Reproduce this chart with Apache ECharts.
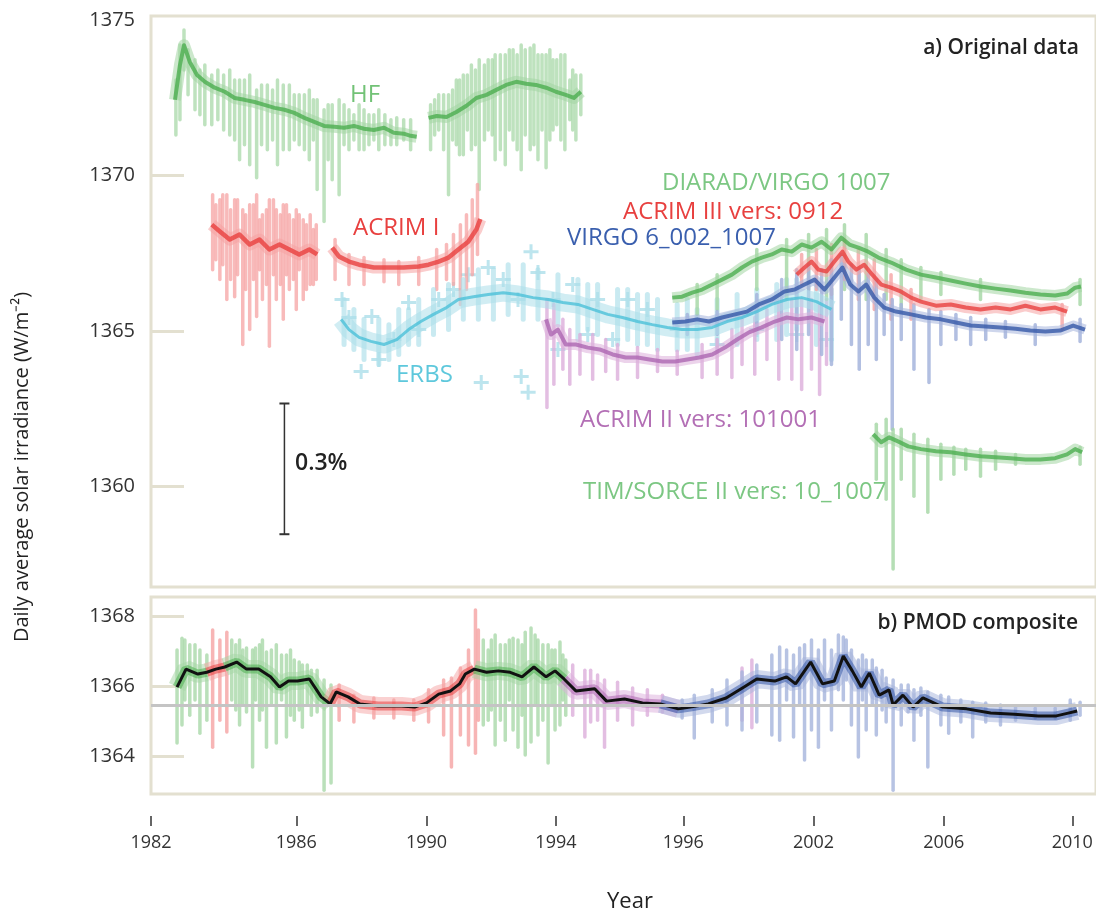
<!DOCTYPE html>
<html><head><meta charset="utf-8">
<script src="https://cdn.jsdelivr.net/npm/echarts@6/dist/echarts.min.js"></script>
<style>html,body{margin:0;padding:0;background:#fff}#c{width:1096px;height:911px}</style>
</head><body><div id="c"></div>
<script>
// ---------- axes ----------
const xTickPos = [1978.03, 1983.05, 1987.55, 1992.02, 1996.42, 2000.92, 2005.42, 2009.86];
const xTickLabels = ['1982', '1986', '1990', '1994', '1996', '2002', '2006', '2010'];
const topYTicks = [1360, 1365, 1370, 1375];
const botYTicks = [1364, 1366, 1368];

// ---------- a) original data: mean traces (segments) ----------
const hfMean = [
 [[1978.86,1372.44],[1979.03,1373.56],[1979.17,1374.2],[1979.37,1373.66],[1979.62,1373.24],[1979.89,1373.02],[1980.23,1372.83],[1980.58,1372.7],[1980.92,1372.5],[1981.26,1372.44],[1981.61,1372.37],[1981.95,1372.28],[1982.3,1372.18],[1982.64,1372.12],[1982.98,1372.02],[1983.33,1371.86],[1983.67,1371.73],[1984.01,1371.6],[1984.36,1371.57],[1984.7,1371.54],[1985.04,1371.6],[1985.39,1371.51],[1985.73,1371.47],[1986.08,1371.54],[1986.42,1371.38],[1986.76,1371.35],[1987.0,1371.28],[1987.21,1371.25]],
 [[1987.62,1371.86],[1987.9,1371.92],[1988.24,1371.89],[1988.58,1372.05],[1988.93,1372.25],[1989.27,1372.5],[1989.62,1372.6],[1989.96,1372.76],[1990.3,1372.92],[1990.65,1373.02],[1990.99,1372.96],[1991.33,1372.92],[1991.68,1372.83],[1992.02,1372.7],[1992.36,1372.6],[1992.64,1372.5],[1992.88,1372.7]]
];
const hfSpikes = [[1978.89,1373.08,1371.31],[1979.03,1374.21,1371.8],[1979.17,1374.69,1373.4],[1979.31,1374.05,1372.6],[1979.55,1373.73,1372.12],[1979.72,1373.4,1371.96],[1979.89,1373.56,1371.64],[1980.13,1373.24,1371.64],[1980.34,1373.4,1371.8],[1980.54,1373.24,1371.47],[1980.75,1373.4,1371.31],[1980.92,1373.08,1371.15],[1981.09,1373.08,1370.51],[1981.26,1373.08,1370.99],[1981.44,1373.24,1370.35],[1981.68,1372.76,1369.93],[1981.85,1372.92,1370.99],[1982.05,1372.92,1370.83],[1982.23,1372.76,1371.15],[1982.4,1373.08,1370.35],[1982.6,1372.92,1370.83],[1982.81,1372.92,1370.83],[1982.98,1372.6,1371.15],[1983.15,1372.6,1370.99],[1983.33,1372.6,1370.83],[1983.5,1372.76,1370.51],[1983.64,1372.44,1371.15],[1983.77,1372.44,1369.55],[1984.01,1372.12,1368.52],[1984.15,1372.28,1370.51],[1984.29,1372.28,1369.87],[1984.53,1372.44,1369.38],[1984.7,1372.28,1370.99],[1984.87,1372.12,1370.83],[1985.04,1371.96,1371.15],[1985.22,1372.28,1370.83],[1985.39,1372.12,1370.83],[1985.56,1371.96,1370.99],[1985.73,1371.96,1371.15],[1985.9,1372.12,1370.83],[1986.11,1371.96,1370.99],[1986.32,1371.8,1370.99],[1986.52,1371.86,1370.99],[1986.76,1371.8,1371.15],[1987.0,1371.8,1370.83],
 [1987.69,1372.28,1370.83],[1987.83,1372.44,1371.31],[1987.97,1372.6,1371.47],[1988.14,1372.6,1370.83],[1988.31,1372.6,1369.38],[1988.45,1372.76,1371.15],[1988.58,1373.08,1370.99],[1988.69,1373.08,1370.67],[1988.82,1373.24,1370.67],[1988.96,1373.24,1371.47],[1989.1,1373.56,1370.83],[1989.24,1373.4,1370.99],[1989.37,1373.73,1369.55],[1989.55,1373.56,1371.15],[1989.68,1373.73,1371.47],[1989.82,1373.73,1371.31],[1989.92,1373.89,1370.51],[1990.1,1373.89,1370.83],[1990.27,1373.89,1370.35],[1990.41,1374.05,1371.47],[1990.54,1374.05,1371.15],[1990.68,1373.89,1370.83],[1990.82,1374.21,1370.19],[1990.96,1374.05,1371.31],[1991.13,1374.11,1370.83],[1991.26,1374.21,1370.99],[1991.4,1373.89,1370.51],[1991.54,1373.89,1371.47],[1991.68,1373.89,1370.25],[1991.81,1374.05,1371.15],[1991.92,1373.73,1371.47],[1992.05,1373.73,1371.64],[1992.19,1373.89,1371.15],[1992.33,1373.89,1370.83],[1992.5,1373.08,1371.8],[1992.6,1373.4,1371.47],[1992.71,1373.24,1371.15],[1992.88,1373.24,1371.96]];

const acrim1Mean = [
 [[1980.13,1368.42],[1980.41,1368.2],[1980.75,1367.94],[1981.09,1368.1],[1981.44,1367.78],[1981.78,1367.94],[1982.12,1367.62],[1982.47,1367.78],[1982.81,1367.62],[1983.15,1367.46],[1983.5,1367.62],[1983.77,1367.46]],
 [[1984.29,1367.68],[1984.53,1367.39],[1984.87,1367.23],[1985.22,1367.13],[1985.73,1367.04],[1986.25,1367.04],[1986.76,1367.04],[1987.28,1367.07],[1987.62,1367.13],[1987.97,1367.23],[1988.31,1367.36],[1988.65,1367.62],[1988.99,1367.87],[1989.27,1368.26],[1989.41,1368.6]]
];
const acrim1Spikes = [[1980.16,1369.38,1366.97],[1980.27,1369.06,1367.29],[1980.41,1369.22,1366.65],[1980.51,1369.38,1367.13],[1980.65,1369.38,1366.01],[1980.78,1368.9,1366.65],[1980.92,1369.22,1366.1],[1981.02,1369.22,1366.81],[1981.2,1368.9,1364.56],[1981.3,1368.74,1366.33],[1981.44,1369.06,1365.04],[1981.57,1369.06,1366.65],[1981.68,1369.38,1365.46],[1981.78,1368.58,1366.97],[1981.88,1368.74,1366.01],[1982.02,1368.9,1366.49],[1982.12,1369.22,1364.5],[1982.26,1369.22,1366.81],[1982.36,1368.9,1366.01],[1982.5,1368.74,1366.49],[1982.6,1369.06,1365.37],[1982.71,1369.06,1366.81],[1982.81,1368.74,1366.33],[1982.95,1368.58,1366.65],[1983.05,1368.9,1365.69],[1983.15,1368.74,1366.97],[1983.29,1368.58,1366.01],[1983.4,1368.42,1366.33],[1983.53,1368.74,1366.49],[1983.64,1368.26,1366.49],[1983.74,1368.42,1366.65],
 [1984.39,1367.94,1366.65],[1984.87,1367.46,1366.49],[1985.39,1367.36,1366.49],[1986.08,1367.29,1366.58],[1986.59,1367.23,1366.49],[1987.28,1367.36,1366.49],[1987.9,1367.62,1366.33],[1988.24,1367.78,1366.65],[1988.48,1368.1,1366.49],[1988.72,1368.42,1365.85],[1988.93,1368.74,1366.33],[1989.13,1369.22,1366.81],[1989.31,1369.71,1367.46]];

const erbsMean = [
 [[1984.6,1365.37],[1984.87,1365.04],[1985.22,1364.79],[1985.63,1364.66],[1986.08,1364.56],[1986.52,1364.72],[1986.93,1365.04],[1987.35,1365.3],[1987.79,1365.53],[1988.24,1365.75],[1988.65,1366.01],[1989.17,1366.1],[1989.68,1366.17],[1990.2,1366.23],[1990.71,1366.17],[1991.23,1366.07],[1991.75,1366.01],[1992.26,1365.91],[1992.78,1365.85],[1993.29,1365.69],[1993.81,1365.53],[1994.32,1365.43],[1994.84,1365.3],[1995.35,1365.2],[1995.87,1365.11],[1996.38,1365.04],[1996.9,1365.04],[1997.42,1365.11],[1997.93,1365.3],[1998.45,1365.43],[1998.96,1365.62],[1999.48,1365.85],[2000.0,1366.01],[2000.51,1366.07],[2001.02,1365.94],[2001.54,1365.69]]
];
const erbsSpikes = [[1984.7,1366.01,1364.56],[1985.04,1365.69,1364.4],[1985.39,1365.37,1364.08],[1985.9,1365.37,1363.92],[1986.25,1365.2,1364.08],[1986.59,1365.69,1364.24],[1986.93,1365.69,1364.56],[1987.28,1366.01,1364.56],[1987.79,1366.33,1364.88],[1988.31,1366.49,1365.04],[1988.82,1366.65,1365.37],[1989.34,1366.97,1365.37],[1989.86,1366.97,1365.37],[1990.37,1367.13,1365.53],[1990.89,1367.13,1365.37],[1991.4,1366.97,1365.37],[1992.09,1366.81,1365.2],[1992.78,1366.65,1364.72],[1993.12,1366.49,1365.04],[1993.46,1366.49,1364.88],[1994.15,1366.33,1364.56],[1994.5,1366.33,1364.72],[1994.84,1366.17,1364.56],[1995.18,1366.17,1364.56],[1995.53,1366.01,1364.4],[1996.21,1365.85,1364.4],[1996.56,1366.01,1364.4],[1996.9,1365.69,1364.24],[1997.59,1366.01,1364.56],[1998.28,1366.17,1364.56],[1998.96,1366.33,1364.72],[1999.65,1366.49,1364.72],[1999.99,1366.65,1364.88],[2000.34,1366.65,1365.04],[2001.02,1366.49,1364.56],[2001.54,1366.33,1364.08]];
const erbsCrosses = [[1984.63,1366.01],[1984.87,1365.43],[1985.29,1363.69],[1985.66,1365.46],[1985.9,1364.08],[1986.42,1364.72],[1986.93,1365.91],[1987.28,1365.04],[1987.97,1366.01],[1988.48,1366.33],[1988.99,1366.81],[1989.44,1363.34],[1989.68,1367.04],[1990.2,1366.65],[1990.71,1366.01],[1990.82,1363.53],[1991.06,1363.02],[1991.16,1367.55],[1991.4,1366.88],[1991.92,1366.01],[1992.09,1364.4],[1992.6,1366.49],[1993.12,1364.88],[1993.46,1366.01],[1993.98,1364.72],[1994.5,1366.01],[1995.18,1365.69],[1996.21,1365.04],[1997.59,1364.56],[1998.96,1365.04],[2000.34,1364.88],[2001.37,1364.72]];

const acrim2Mean = [
 [[1991.68,1365.37],[1991.85,1364.88],[1992.09,1365.04],[1992.36,1364.56],[1992.71,1364.56],[1993.12,1364.46],[1993.53,1364.4],[1993.98,1364.24],[1994.43,1364.14],[1994.84,1364.14],[1995.25,1364.08],[1995.7,1364.01],[1996.14,1364.01],[1996.56,1364.08],[1996.97,1364.14],[1997.42,1364.24],[1997.86,1364.46],[1998.28,1364.72],[1998.69,1364.95],[1999.13,1365.11],[1999.58,1365.3],[2000.0,1365.43],[2000.41,1365.37],[2000.85,1365.43],[2001.3,1365.3]]
];
const acrim2Spikes = [[1991.71,1366.01,1362.53],[1991.95,1365.85,1363.28],[1992.26,1365.37,1363.76],[1992.5,1365.04,1363.28],[1992.85,1364.88,1363.6],[1993.29,1364.88,1363.44],[1993.74,1364.72,1363.69],[1994.15,1364.56,1363.44],[1994.84,1364.46,1363.5],[1995.53,1364.4,1363.69],[1996.21,1364.34,1363.6],[1997.07,1364.56,1363.5],[1997.59,1364.72,1363.6],[1998.1,1365.04,1363.5],[1998.45,1365.37,1363.92],[1998.89,1365.43,1363.6],[1999.31,1365.69,1364.08],[1999.72,1365.85,1363.44],[2000.17,1366.01,1363.44],[2000.51,1366.01,1363.11],[2000.85,1366.01,1363.76],[2001.13,1365.85,1362.95],[2001.37,1366.01,1363.92]];

const diaradMean = [
 [[1996.04,1366.07],[1996.38,1366.1],[1996.73,1366.23],[1997.07,1366.33],[1997.42,1366.49],[1997.76,1366.65],[1998.1,1366.81],[1998.45,1367.04],[1998.79,1367.23],[1999.13,1367.36],[1999.48,1367.46],[1999.82,1367.62],[2000.17,1367.55],[2000.51,1367.78],[2000.85,1367.68],[2001.2,1367.87],[2001.54,1367.62],[2001.88,1368.0],[2002.16,1367.78],[2002.47,1367.68],[2002.81,1367.55],[2003.16,1367.36],[2003.6,1367.2],[2004.12,1366.97],[2004.63,1366.81],[2005.15,1366.72],[2005.66,1366.62],[2006.18,1366.52],[2006.69,1366.43],[2007.21,1366.36],[2007.73,1366.3],[2008.24,1366.23],[2008.76,1366.17],[2009.27,1366.14],[2009.68,1366.2],[2009.96,1366.39],[2010.16,1366.43]]
];
const diaradSpikes = [[1996.9,1366.49,1365.53],[1997.59,1366.81,1365.69],[1998.96,1367.62,1366.33],[1999.99,1367.94,1366.01],[2000.75,1368.1,1366.33],[2001.37,1368.26,1366.01],[2001.99,1368.42,1366.33],[2002.74,1368.1,1366.01],[2003.43,1367.62,1366.01],[2003.95,1367.29,1365.69],[2004.63,1367.04,1366.01],[2005.32,1366.88,1366.17],[2006.69,1366.65,1366.01],[2010.13,1366.65,1365.85]];

const acrim3Mean = [
 [[2000.34,1366.81],[2000.61,1367.04],[2000.85,1367.23],[2001.09,1366.97],[2001.37,1366.91],[2001.64,1367.23],[2001.92,1367.55],[2002.12,1367.23],[2002.4,1366.97],[2002.67,1367.13],[2002.95,1366.81],[2003.26,1366.49],[2003.6,1366.39],[2003.95,1366.26],[2004.29,1366.07],[2004.63,1365.94],[2005.15,1365.81],[2005.66,1365.85],[2006.18,1365.75],[2006.69,1365.69],[2007.21,1365.75],[2007.73,1365.69],[2008.24,1365.81],[2008.76,1365.69],[2009.27,1365.75],[2009.68,1365.62]]
];
const acrim3Spikes = [[2000.51,1367.46,1366.49],[2001.02,1367.62,1366.33],[2001.54,1367.78,1366.17],[2001.99,1367.94,1366.65],[2002.47,1367.62,1366.01],[2003.02,1367.29,1365.69],[2003.6,1366.81,1365.37],[2004.29,1366.33,1365.37],[2009.51,1365.85,1365.04]];

const virgoMean = [
 [[1996.04,1365.27],[1996.49,1365.3],[1996.9,1365.37],[1997.31,1365.3],[1997.76,1365.43],[1998.21,1365.53],[1998.62,1365.62],[1999.03,1365.85],[1999.48,1366.01],[1999.92,1366.27],[2000.27,1366.33],[2000.61,1366.49],[2000.96,1366.65],[2001.3,1366.33],[2001.64,1366.72],[2001.92,1367.04],[2002.19,1366.49],[2002.47,1366.27],[2002.74,1366.49],[2003.02,1366.07],[2003.36,1365.75],[2003.77,1365.62],[2004.29,1365.53],[2004.8,1365.43],[2005.32,1365.37],[2005.84,1365.27],[2006.35,1365.17],[2006.87,1365.14],[2007.38,1365.11],[2007.9,1365.07],[2008.41,1365.01],[2008.93,1364.98],[2009.44,1365.01],[2009.89,1365.17],[2010.3,1365.04]]
];
const virgoSpikes = [[1996.56,1365.53,1364.88],[1997.59,1365.62,1364.88],[1998.96,1366.17,1365.04],[1999.82,1366.65,1364.72],[2000.34,1366.97,1364.4],[2000.75,1367.13,1364.88],[2001.2,1366.97,1364.24],[2001.54,1367.29,1363.92],[2001.88,1367.46,1365.37],[2002.23,1367.13,1364.56],[2002.5,1366.97,1363.76],[2002.81,1366.81,1364.56],[2003.09,1366.65,1364.08],[2003.36,1366.17,1364.88],[2003.64,1366.01,1361.83],[2003.95,1365.85,1364.72],[2004.39,1365.85,1363.76],[2004.91,1365.69,1363.34],[2005.32,1365.62,1364.56],[2005.84,1365.53,1364.72],[2006.35,1365.43,1364.56],[2006.87,1365.37,1364.72],[2007.55,1365.3,1364.79],[2008.58,1365.2,1364.56],[2010.13,1365.37,1364.66]];

const timMean = [
 [[2002.98,1361.67],[2003.26,1361.41],[2003.53,1361.57],[2003.84,1361.44],[2004.19,1361.28],[2004.63,1361.19],[2005.15,1361.12],[2005.66,1361.09],[2006.18,1361.02],[2006.69,1360.96],[2007.21,1360.93],[2007.73,1360.9],[2008.24,1360.86],[2008.76,1360.86],[2009.27,1360.9],[2009.68,1361.02],[2009.96,1361.19],[2010.2,1361.09]]
];
const timSpikes = [[2003.09,1361.99,1360.22],[2003.43,1362.15,1359.58],[2003.67,1361.83,1357.33],[2003.95,1361.83,1360.22],[2004.39,1361.67,1359.67],[2004.87,1361.51,1359.16],[2005.32,1361.35,1360.22],[2005.77,1361.25,1360.38],[2006.18,1361.19,1360.54],[2006.69,1361.19,1360.32],[2007.21,1361.12,1360.54],[2007.9,1361.02,1360.7],[2010.13,1361.25,1360.7]];

const errBar = [[1982.64,1362.66],[1982.64,1358.45]];

// ---------- b) PMOD composite ----------
const pmodComposite = [[1978.93,1365.98],[1979.24,1366.49],[1979.65,1366.35],[1979.96,1366.4],[1980.27,1366.49],[1980.58,1366.55],[1980.99,1366.69],[1981.33,1366.49],[1981.75,1366.49],[1982.16,1366.27],[1982.47,1365.98],[1982.78,1366.15],[1983.09,1366.15],[1983.5,1366.21],[1983.91,1365.7],[1984.22,1365.5],[1984.43,1365.84],[1984.84,1365.7],[1985.25,1365.5],[1985.87,1365.44],[1986.69,1365.44],[1987.14,1365.41],[1987.55,1365.53],[1987.97,1365.78],[1988.38,1365.87],[1988.69,1366.07],[1988.89,1366.35],[1989.2,1366.49],[1989.62,1366.4],[1990.03,1366.44],[1990.44,1366.4],[1990.85,1366.27],[1991.26,1366.55],[1991.68,1366.27],[1991.99,1366.44],[1992.3,1366.21],[1992.71,1365.87],[1993.36,1365.93],[1993.77,1365.58],[1994.39,1365.64],[1995.01,1365.53],[1995.63,1365.5],[1996.25,1365.36],[1996.66,1365.41],[1997.28,1365.5],[1997.9,1365.67],[1998.52,1365.98],[1998.96,1366.21],[1999.58,1366.15],[1999.99,1366.27],[2000.3,1366.07],[2000.82,1366.69],[2001.23,1366.07],[2001.64,1366.15],[2001.95,1366.86],[2002.26,1366.44],[2002.57,1365.98],[2002.85,1366.38],[2003.19,1365.75],[2003.53,1365.9],[2003.67,1365.47],[2004.01,1365.75],[2004.36,1365.41],[2004.7,1365.67],[2005.39,1365.41],[2006.21,1365.36],[2007.04,1365.24],[2007.86,1365.21],[2008.69,1365.16],[2009.31,1365.16],[2009.72,1365.24],[2010.03,1365.3]];
const pmodSources = [['HF',1978.8,1980.1],['ACRIM I',1980.1,1980.8],['HF',1980.8,1984.25],['ACRIM I',1984.25,1989.35],['HF',1989.35,1992.45],['ACRIM II',1992.45,1996.25],['VIRGO',1996.25,2010.4]];
const pmodRefLevel = 1365.47;
const pmodHFSpikes = [[1978.93,1367.03,1364.39],[1979.1,1367.37,1364.9],[1979.2,1367.32,1365.61],[1979.37,1367.18,1365.18],[1979.55,1367.18,1365.61],[1979.72,1367.03,1364.67],[1979.96,1366.89,1365.04],[1980.82,1367.32,1365.61],[1980.96,1367.18,1365.33],[1981.09,1367.32,1364.9],[1981.2,1367.03,1365.47],[1981.33,1367.09,1365.27],[1981.54,1367.03,1363.71],[1981.64,1367.09,1365.61],[1981.78,1367.18,1365.04],[1981.88,1367.32,1365.33],[1982.02,1366.98,1364.27],[1982.19,1367.03,1365.47],[1982.36,1367.18,1364.39],[1982.54,1366.89,1365.61],[1982.71,1366.89,1364.56],[1982.85,1367.03,1365.18],[1982.98,1366.75,1365.04],[1983.15,1366.69,1365.33],[1983.26,1366.61,1364.84],[1983.43,1366.61,1365.47],[1983.57,1366.46,1365.18],[1983.77,1366.46,1365.27],[1984.01,1366.18,1363.05],[1984.25,1366.04,1363.25],
 [1989.51,1367.32,1364.9],[1989.68,1367.03,1365.04],[1989.79,1367.32,1365.33],[1989.92,1367.46,1364.33],[1990.1,1367.18,1365.04],[1990.27,1367.18,1364.47],[1990.41,1367.32,1365.61],[1990.54,1367.37,1364.76],[1990.71,1367.32,1364.27],[1990.85,1367.18,1365.18],[1990.96,1367.54,1364.05],[1991.16,1367.66,1364.42],[1991.3,1367.46,1365.47],[1991.4,1367.32,1364.62],[1991.57,1367.18,1365.04],[1991.75,1367.18,1363.82],[1991.88,1367.03,1365.47],[1991.99,1367.03,1364.76],[1992.16,1367.26,1364.9],[1992.26,1366.89,1365.61],[1992.36,1366.75,1365.18]];
const pmodA1Spikes = [[1980.16,1367.6,1364.27],[1980.41,1367.32,1365.04],[1980.65,1367.54,1364.7],[1984.53,1366.04,1365.04],[1985.04,1365.75,1364.99],[1985.73,1365.67,1365.1],[1986.42,1365.61,1365.1],[1987.11,1365.61,1365.04],[1987.62,1365.9,1364.99],[1988.14,1366.18,1364.62],[1988.41,1366.24,1363.71],[1988.72,1366.52,1364.62],[1989.0,1367.03,1364.33],[1989.24,1368.17,1364.1],[1989.34,1367.6,1365.04]];
const pmodA2Spikes = [[1992.6,1366.61,1365.18],[1993.02,1366.46,1364.56],[1993.22,1366.46,1364.99],[1993.46,1366.32,1365.04],[1993.7,1366.18,1364.27],[1994.15,1366.12,1365.04],[1994.67,1365.95,1364.9],[1995.18,1365.9,1365.18],[1995.7,1365.75,1365.27],[1998.45,1366.52,1365.04],[1998.79,1366.75,1364.82]];
const pmodVirgoSpikes = [[1996.38,1365.61,1365.1],[1996.8,1365.75,1364.53],[1997.42,1365.9,1364.99],[1997.93,1366.18,1364.9],[1998.45,1366.41,1364.76],[1998.96,1366.61,1364.99],[1999.48,1366.89,1364.62],[1999.75,1367.12,1364.47],[1999.99,1367.03,1365.61],[2000.23,1366.89,1364.56],[2000.44,1367.09,1365.47],[2000.61,1367.18,1363.91],[2000.85,1367.32,1364.76],[2001.09,1367.03,1364.27],[2001.3,1367.32,1365.61],[2001.54,1367.03,1364.76],[2001.78,1367.46,1365.9],[2001.95,1367.4,1365.61],[2002.05,1367.32,1366.18],[2002.23,1367.03,1364.9],[2002.47,1366.75,1363.99],[2002.61,1366.89,1365.61],[2002.74,1366.75,1364.76],[2002.95,1366.75,1365.47],[2003.09,1366.52,1364.62],[2003.29,1366.46,1365.33],[2003.43,1366.24,1364.99],[2003.67,1366.18,1363.05],[2003.95,1366.04,1364.9],[2004.19,1366.04,1365.27],[2004.39,1365.9,1364.47],[2004.63,1365.95,1365.18],[2004.87,1365.84,1363.71],[2005.32,1365.75,1364.9],[2005.59,1365.7,1364.67],[2006.01,1365.61,1364.99],[2006.42,1365.55,1364.56],[2006.87,1365.53,1364.99],[2007.38,1365.47,1364.9],[2007.9,1365.41,1365.04],[2008.58,1365.38,1365.1],[2009.27,1365.38,1365.1],[2009.79,1365.61,1365.04],[2010.13,1365.55,1365.18]];

// ---------- rendering ----------
const FONT = 'Open Sans';
const C = {
  green: ['#4cae50', '#a3d6a3'],
  red: ['#e8403f', '#f5a3a3'],
  cyan: ['#4cc0d8', '#acdfea'],
  purple: ['#ad66b1', '#dcaedb'],
  blue: ['#3557a8', '#a5b4dc']
};
const srcColor = {'HF': C.green, 'ACRIM I': C.red, 'ACRIM II': C.purple, 'VIRGO': C.blue};

const series = [];
function trace(segs, col, gi, haloW, coreW) {
  segs.forEach(seg => {
    series.push({type: 'line', xAxisIndex: gi, yAxisIndex: gi, data: seg, showSymbol: false, symbol: 'none',
      lineStyle: {color: col[1], width: haloW, opacity: 0.55, join: 'round'}, silent: true, z: 2});
    series.push({type: 'line', xAxisIndex: gi, yAxisIndex: gi, data: seg, showSymbol: false, symbol: 'none',
      lineStyle: {color: col[0], width: coreW, opacity: 0.8, join: 'round'}, silent: true, z: 3});
  });
}
function spikes(data, color, gi, w, op) {
  series.push({type: 'custom', xAxisIndex: gi, yAxisIndex: gi, data: data, clip: true, silent: true, z: 2,
    encode: {x: 0, y: [1, 2]},
    renderItem: function (params, api) {
      const p1 = api.coord([api.value(0), api.value(1)]);
      const p2 = api.coord([api.value(0), api.value(2)]);
      return {type: 'line', shape: {x1: p1[0], y1: p1[1], x2: p2[0], y2: p2[1]},
        style: {stroke: color, lineWidth: w, opacity: op, lineCap: 'round'}};
    }});
}

// top panel
spikes(hfSpikes, C.green[1], 0, 3.5, 0.7);
trace(hfMean, C.green, 0, 12, 4);
spikes(acrim1Spikes, C.red[1], 0, 3.5, 0.75);
trace(acrim1Mean, C.red, 0, 12, 4.5);
series.push({type: 'scatter', xAxisIndex: 0, yAxisIndex: 0, data: erbsCrosses, symbol: 'path://M4,0H6V4H10V6H6V10H4V6H0V4H4Z',
  symbolSize: 15, itemStyle: {color: C.cyan[1], opacity: 0.8}, silent: true, z: 1});
spikes(erbsSpikes, C.cyan[1], 0, 5, 0.65);
trace(erbsMean, C.cyan, 0, 18, 3);
spikes(acrim2Spikes, C.purple[1], 0, 3.5, 0.8);
trace(acrim2Mean, C.purple, 0, 11, 4);
spikes(diaradSpikes, C.green[1], 0, 3.5, 0.8);
trace(diaradMean, C.green, 0, 11, 4);
spikes(acrim3Spikes, C.red[1], 0, 3.5, 0.8);
trace(acrim3Mean, C.red, 0, 11, 4);
spikes(virgoSpikes, C.blue[1], 0, 3.5, 0.85);
trace(virgoMean, C.blue, 0, 10, 4);
spikes(timSpikes, C.green[1], 0, 3.5, 0.8);
trace(timMean, C.green, 0, 11, 4);
series.push({type: 'line', xAxisIndex: 0, yAxisIndex: 0, data: errBar, symbol: 'rect', symbolSize: [10, 2],
  itemStyle: {color: '#333'}, lineStyle: {color: '#333', width: 1.5}, silent: true, z: 5});

// bottom panel
series.push({type: 'line', xAxisIndex: 1, yAxisIndex: 1, data: [], silent: true, z: 1,
  markLine: {silent: true, symbol: 'none', label: {show: false}, animation: false,
    lineStyle: {color: '#c4c4c4', width: 3, type: 'solid'}, data: [{yAxis: pmodRefLevel}]}});
spikes(pmodHFSpikes, C.green[1], 1, 3.5, 0.75);
spikes(pmodA1Spikes, C.red[1], 1, 3.5, 0.8);
spikes(pmodA2Spikes, C.purple[1], 1, 3.5, 0.8);
spikes(pmodVirgoSpikes, C.blue[1], 1, 3.5, 0.8);
pmodSources.forEach(s => {
  const [src, from, to] = s;
  const seg = [];
  let prev = null;
  pmodComposite.forEach(p => { if (p[0] < from) prev = p; else if (p[0] <= to) seg.push(p); });
  if (prev) seg.unshift(prev);
  const col = srcColor[src];
  series.push({type: 'line', xAxisIndex: 1, yAxisIndex: 1, data: seg, showSymbol: false, symbol: 'none',
    lineStyle: {color: col[1], width: 18, opacity: 0.5}, silent: true, z: 2});
  series.push({type: 'line', xAxisIndex: 1, yAxisIndex: 1, data: seg, showSymbol: false, symbol: 'none',
    lineStyle: {color: col[0], width: 9, opacity: 0.55}, silent: true, z: 2});
});
series.push({type: 'line', xAxisIndex: 1, yAxisIndex: 1, data: pmodComposite, showSymbol: false, symbol: 'none',
  lineStyle: {color: '#111', width: 3}, silent: true, z: 4});

const frame = '#e3e0d0';
const yAx = (gi, min, max, ticks, labels) => ({
  gridIndex: gi, type: 'value', min: min, max: max,
  axisLine: {show: false}, splitLine: {show: false},
  axisTick: {show: true, inside: true, length: 33, lineStyle: {color: frame, width: 3}, customValues: ticks},
  axisLabel: {customValues: labels, fontSize: 20, color: '#333', margin: 16, fontFamily: FONT,
    formatter: v => String(Math.round(v))}
});

const txt = (text, x, y, color, size, extra) => ({
  type: 'text', x: x, y: y, silent: true, z: 10,
  style: {text: text, fill: color, font: (extra && extra.weight ? extra.weight + ' ' : '') + size + 'px "' + FONT + '"',
    textVerticalAlign: 'middle', textAlign: (extra && extra.align) || 'left'}
});

const chart = echarts.init(document.getElementById('c'));
chart.setOption({
  animation: false,
  backgroundColor: '#fff',
  textStyle: {fontFamily: FONT},
  grid: [
    {left: 151, top: 16, width: 950, height: 571, show: true, borderColor: frame, borderWidth: 3},
    {left: 151, top: 597, width: 950, height: 197, show: true, borderColor: frame, borderWidth: 3}
  ],
  xAxis: [
    {gridIndex: 0, type: 'value', min: 1978.03, max: 2010.68, show: false},
    {gridIndex: 1, type: 'value', min: 1978.03, max: 2010.68, offset: 22,
      axisLine: {show: false}, splitLine: {show: false},
      axisTick: {show: true, length: 10, lineStyle: {color: '#333', width: 1.5}, customValues: xTickPos},
      axisLabel: {customValues: xTickPos, fontSize: 18, color: '#333', margin: 18, fontFamily: FONT,
        formatter: function (v) { const i = xTickPos.findIndex(p => Math.abs(p - v) < 1e-6); return i >= 0 ? xTickLabels[i] : ''; }}}
  ],
  yAxis: [
    yAx(0, 1356.75, 1375.14, topYTicks.slice(0, 3), topYTicks),
    yAx(1, 1362.94, 1368.54, botYTicks, botYTicks)
  ],
  graphic: [
    txt('a) Original data', 1079, 48, '#222', 21, {weight: 600, align: 'right'}),
    txt('b) PMOD composite', 1078, 623, '#222', 21, {weight: 600, align: 'right'}),
    txt('HF', 350, 95, '#72c276', 24),
    txt('ACRIM I', 353, 228, '#e8403f', 24),
    txt('ERBS', 396, 375, '#5ec8dc', 24),
    txt('DIARAD/VIRGO 1007', 662, 183, '#7cc783', 24),
    txt('ACRIM III vers: 0912', 623, 212, '#e8403f', 24),
    txt('VIRGO 6_002_1007', 567, 238, '#3a5fae', 24),
    txt('ACRIM II vers: 101001', 580, 420, '#b36fb5', 24),
    txt('TIM/SORCE II vers: 10_1007', 583, 492, '#7cc783', 24),
    txt('0.3%', 295, 463, '#222', 23, {weight: 600}),
    txt('Year', 630, 902, '#222', 22, {align: 'center'}),
    {type: 'text', x: 22, y: 467, rotation: Math.PI / 2, silent: true,
      style: {text: 'Daily average solar irradiance (W/m⁻²)', fill: '#222', font: '20px "' + FONT + '"',
        textAlign: 'center', textVerticalAlign: 'middle'}}
  ],
  series: series
});
</script></body></html>
